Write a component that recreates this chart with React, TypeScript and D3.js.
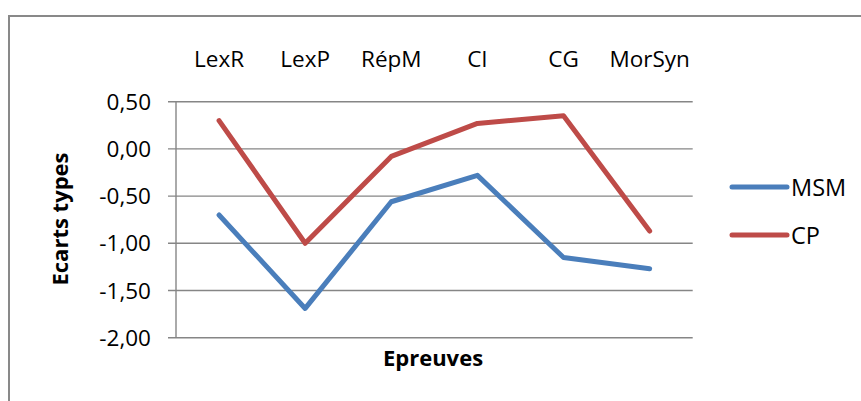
import React from "react";
import * as d3 from "d3";

const categories = ["LexR", "LexP", "RépM", "CI", "CG", "MorSyn"];
const msmValues = [-0.70, -1.69, -0.56, -0.28, -1.15, -1.27];
const cpValues = [0.30, -1.00, -0.08, 0.27, 0.35, -0.87];
const yTicks = [0.5, 0, -0.5, -1, -1.5, -2];
const seriesNames = ["MSM", "CP"];
const seriesColors = ["#4A7EBB", "#BE4B48"];

const W = 861;
const H = 401;
const FONT = "'Open Sans', sans-serif";

export default function App() {
  const plotLeft = 176;
  const plotRight = 692.7;
  const plotTop = 101.7;
  const plotBottom = 337.7;

  const x = d3.scaleBand<string>().domain(categories).range([plotLeft, plotRight]);
  const y = d3.scaleLinear().domain([-2, 0.5]).range([plotBottom, plotTop]);

  const line = d3
    .line<number>()
    .x((_, i) => (x(categories[i]) as number) + x.bandwidth() / 2)
    .y((d) => y(d));

  const series = [msmValues, cpValues];
  const fmt = (v: number) => v.toFixed(2).replace(".", ",");

  return (
    <svg
      width={W}
      height={H}
      style={{ position: "absolute", left: 0, top: 0, background: "#fff" }}
      fontFamily={FONT}
    >
      <rect x={0} y={0} width={W} height={H} fill="#fff" />
      <rect x={9} y={16} width={W + 20} height={H + 20} fill="none" stroke="#898989" strokeWidth={2} />

      {yTicks.map((t) => (
        <g key={t}>
          <line x1={plotLeft - 8} x2={plotRight} y1={y(t)} y2={y(t)} stroke="#868686" strokeWidth={1.4} />
          <text x={151} y={y(t) + 8} textAnchor="end" fontSize={22.5} fill="#000">
            {fmt(t)}
          </text>
        </g>
      ))}
      <line x1={plotLeft} x2={plotLeft} y1={plotTop} y2={plotBottom} stroke="#868686" strokeWidth={1.4} />

      {categories.map((c) => (
        <text
          key={c}
          x={(x(c) as number) + x.bandwidth() / 2}
          y={67}
          textAnchor="middle"
          fontSize={22.5}
          fill="#000"
        >
          {c}
        </text>
      ))}

      {series.map((s, i) => (
        <path
          key={seriesNames[i]}
          d={line(s) as string}
          fill="none"
          stroke={seriesColors[i]}
          strokeWidth={5}
          strokeLinecap="round"
          strokeLinejoin="round"
        />
      ))}

      <text x={433} y={366} textAnchor="middle" fontSize={22} fontWeight="bold" fill="#000">
        Epreuves
      </text>
      <text
        transform={`translate(68, 219) rotate(-90)`}
        textAnchor="middle"
        fontSize={22}
        fontWeight="bold"
        fill="#000"
      >
        Ecarts types
      </text>

      {seriesNames.map((n, i) => {
        const ly = 187 + i * 48;
        return (
          <g key={n}>
            <line x1={732} x2={787} y1={ly} y2={ly} stroke={seriesColors[i]} strokeWidth={5} strokeLinecap="round" />
            <text x={791} y={ly + 8.5} fontSize={23.5} fill="#000">
              {n}
            </text>
          </g>
        );
      })}
    </svg>
  );
}
